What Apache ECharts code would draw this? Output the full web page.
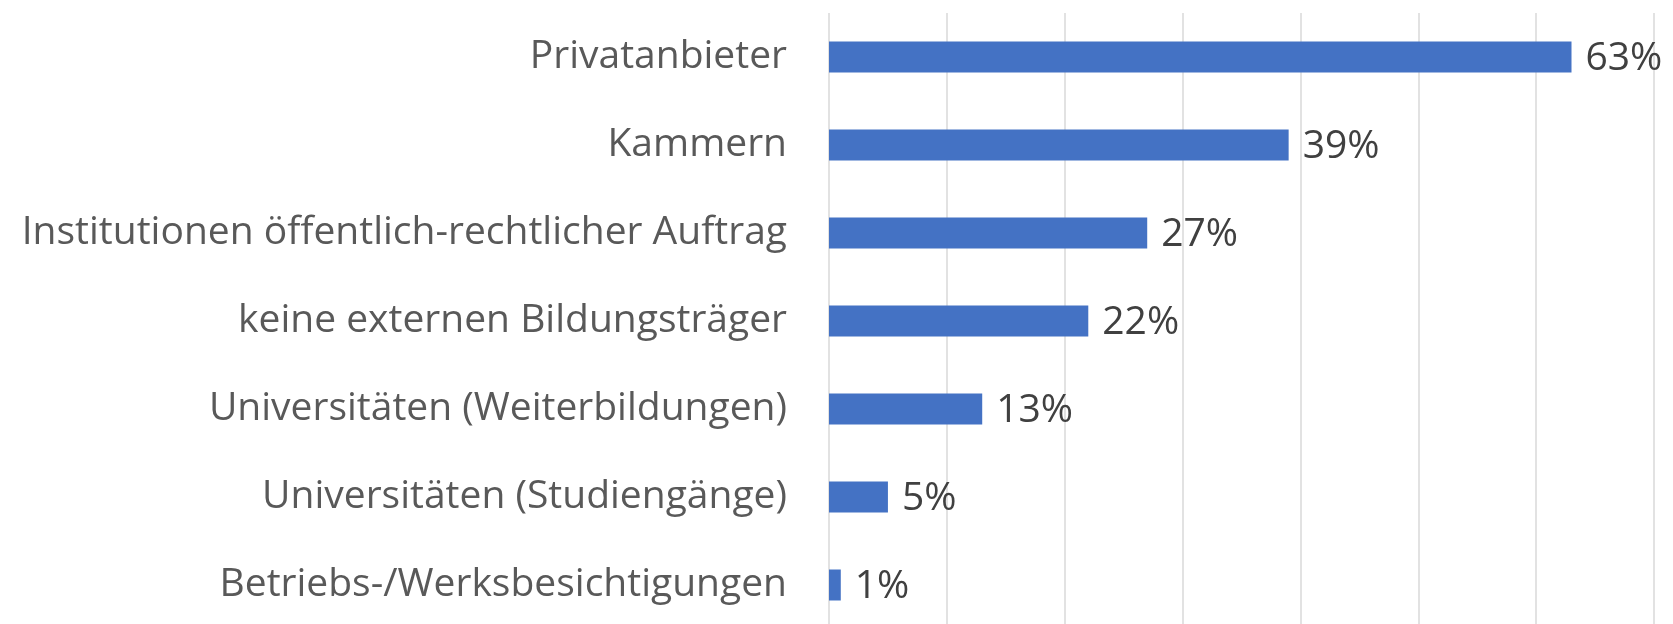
<!DOCTYPE html>
<html>
<head>
<meta charset="utf-8">
<script src="https://cdn.jsdelivr.net/npm/echarts@6/dist/echarts.min.js"></script>
<style>
html,body{margin:0;padding:0;background:#fff}
#chart{width:1673px;height:624px}
</style>
</head>
<body>
<div id="chart"></div>
<script>
// categories top to bottom
const categories=[
	"Privatanbieter",
	"Kammern",
	"Institutionen öffentlich-rechtlicher Auftrag",
	"keine externen Bildungsträger",
	"Universitäten (Weiterbildungen)",
	"Universitäten (Studiengänge)",
	"Betriebs-/Werksbesichtigungen"
]
const values=[63,39,27,22,13,5,1]
const axisMax=70,axisStep=10

const chart=echarts.init(document.getElementById("chart"))
chart.setOption({
	animation:false,
	grid:{
		left:829,
		right:19,
		top:13,
		bottom:-5,
		outerBoundsMode:"none"
	},
	xAxis:{
		type:"value",
		min:0,
		max:axisMax,
		interval:axisStep,
		axisLabel:{show:false},
		axisLine:{show:false},
		axisTick:{show:false},
		splitLine:{
			lineStyle:{color:"#d9d9d9",width:1.5}
		}
	},
	yAxis:{
		type:"category",
		inverse:true,
		data:categories,
		axisLine:{show:false},
		axisTick:{show:false},
		axisLabel:{
			margin:42,
			color:"#595959",
			fontSize:39,
			fontFamily:"Open Sans"
		}
	},
	series:[
		{
			type:"bar",
			data:values,
			barWidth:31,
			itemStyle:{color:"#4472C4"},
			label:{
				show:true,
				position:"right",
				distance:14,
				offset:[0,2],
				color:"#404040",
				fontSize:39,
				fontFamily:"Open Sans",
				formatter:p=>p.value+"%"
			}
		}
	]
})
</script>
</body>
</html>
